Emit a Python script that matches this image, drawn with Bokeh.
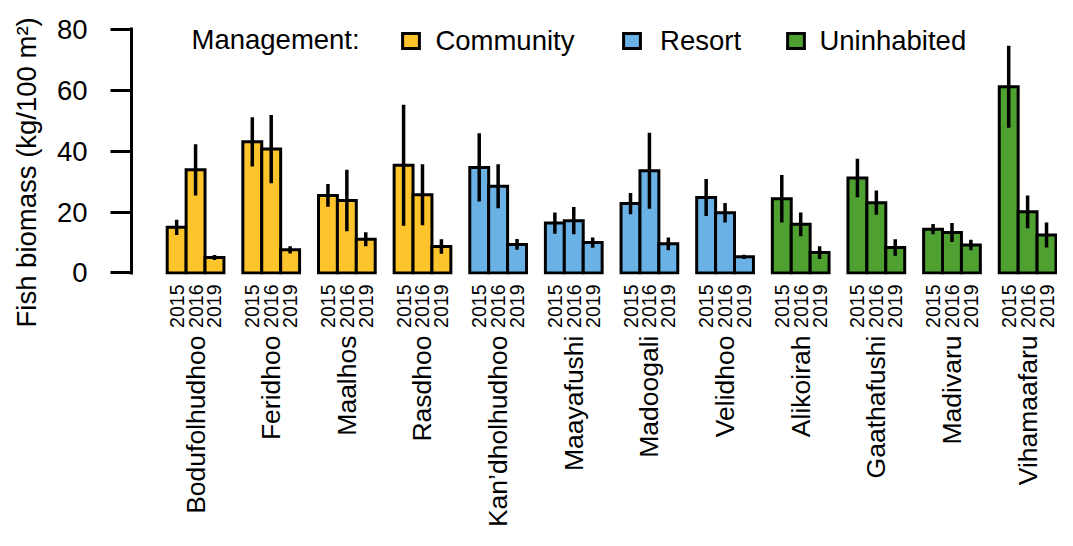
from math import pi
from bokeh.plotting import figure
from bokeh.models import (Range1d, FixedTicker, LinearAxis, Legend, LegendItem,
                          Label, Title, ColumnDataSource)
from bokeh.embed import file_html
from bokeh.resources import INLINE

# ---------------- data ----------------
islands = ["Bodufolhudhoo", "Feridhoo", "Maalhos", "Rasdhoo",
           "Kan\u2019dholhudhoo", "Maayafushi", "Madoogali", "Velidhoo",
           "Alikoirah", "Gaathafushi", "Madivaru", "Vihamaafaru"]
management = ["Community"] * 4 + ["Resort"] * 4 + ["Uninhabited"] * 4
years = ["2015", "2016", "2019"]

biomass_2015 = [15.0, 43.1, 25.5, 35.4, 34.7, 16.4, 22.8, 24.8, 24.4, 31.2, 14.4, 61.2]
biomass_2016 = [33.9, 40.7, 23.8, 25.7, 28.5, 17.2, 33.6, 19.8, 16.0, 23.1, 13.3, 20.1]
biomass_2019 = [5.1, 7.6, 11.1, 8.7, 9.4, 10.0, 9.6, 5.3, 6.7, 8.4, 9.2, 12.5]

se_2015 = [2.5, 8.1, 3.7, 19.9, 11.2, 3.5, 3.5, 6.1, 7.8, 6.3, 1.7, 13.5]
se_2016 = [8.4, 11.2, 10.1, 10.0, 7.2, 4.5, 12.5, 3.2, 3.9, 4.0, 3.1, 5.4]
se_2019 = [0.8, 1.2, 2.3, 2.4, 1.8, 1.7, 2.1, 0.7, 2.1, 2.7, 1.7, 4.1]

y_ticks = [0, 20, 40, 60, 80]
mgmt_levels = ["Community", "Resort", "Uninhabited"]
mgmt_colors = ["#FEC42C", "#6AB2E6", "#4EA030"]
y_title = "Fish biomass (kg/100 m\u00b2)"
legend_title = "Management:"

# ---------------- build tables ----------------
FONT = "Liberation Sans"
vals = [biomass_2015, biomass_2016, biomass_2019]
ses = [se_2015, se_2016, se_2019]

tables = {m: dict(x=[], top=[], lo=[], hi=[]) for m in mgmt_levels}
year_ticks, year_over = [], {}
group_ticks, group_over = [], {}
for g, isl in enumerate(islands):
    m = management[g]
    for j, yr in enumerate(years):
        xc = 4 * g + j + 0.5
        v = vals[j][g]
        s = ses[j][g]
        t = tables[m]
        t["x"].append(xc); t["top"].append(v)
        t["lo"].append(v - s); t["hi"].append(v + s)
        year_ticks.append(xc); year_over[xc] = yr
    gc = 4 * g + 1.5
    group_ticks.append(gc); group_over[gc] = isl

p = figure(width=1057, height=530, output_backend="svg", toolbar_location=None,
           x_range=Range1d(-1.888, 47.08), y_range=Range1d(-0.493, 82.957),
           min_border_left=131, min_border_right=0, min_border_top=20,
           min_border_bottom=256, x_axis_location=None)
p.outline_line_color = None
p.xgrid.visible = False
p.ygrid.visible = False

renderers = {}
for m, c in zip(mgmt_levels, mgmt_colors):
    src = ColumnDataSource(tables[m])
    r = p.vbar(x="x", width=1, top="top", bottom=0, source=src,
               fill_color=c, line_color="black", line_width=3, line_join="miter")
    renderers[m] = r
for m in mgmt_levels:
    src = ColumnDataSource(tables[m])
    p.segment(x0="x", y0="lo", x1="x", y1="hi", source=src,
              line_color="black", line_width=3.5)

# y axis
ya = p.yaxis[0]
ya.ticker = FixedTicker(ticks=y_ticks)
ya.bounds = (-0.5, 80.5)
ya.axis_line_width = 3
ya.major_tick_line_width = 3
ya.major_tick_out = 21
ya.major_tick_in = 0
ya.minor_tick_line_color = None
ya.major_label_standoff = 23
ya.major_label_text_font_size = "27.5px"
ya.major_label_text_font = FONT
ya.major_label_text_color = "black"

p.add_layout(Title(text=y_title, align="left", offset=-53, vertical_align="top",
                   standoff=20, text_font_size="27.5px", text_font_style="normal",
                   text_font=FONT, text_color="black"), "left")

# x axes (years, islands)
ax_year = LinearAxis(ticker=FixedTicker(ticks=year_ticks), major_label_overrides=year_over,
                     major_label_orientation=pi / 2, axis_line_color=None,
                     major_tick_line_color=None, minor_tick_line_color=None,
                     major_tick_out=0, major_tick_in=0, major_label_standoff=10,
                     major_label_text_font_size="19.5px", major_label_text_font=FONT,
                     major_label_text_color="black")
p.add_layout(ax_year, "below")
ax_isl = LinearAxis(ticker=FixedTicker(ticks=group_ticks), major_label_overrides=group_over,
                    major_label_orientation=pi / 2, axis_line_color=None,
                    major_tick_line_color=None, minor_tick_line_color=None,
                    major_tick_out=0, major_tick_in=0, major_label_standoff=5,
                    major_label_text_font_size="26.5px", major_label_text_font=FONT,
                    major_label_text_color="black")
p.add_layout(ax_isl, "below")

# legend
p.add_layout(Label(x=60, y=235, x_units="screen", y_units="screen", text=legend_title,
                   text_font_size="27.5px", text_font=FONT, text_baseline="middle",
                   text_color="black"))
leg_pos = {"Community": (269.4, 217.5, 14), "Resort": (490.1, 217.5, 18),
           "Uninhabited": (654.4, 217.5, 13)}
for m in mgmt_levels:
    lx, ly, sd = leg_pos[m]
    leg = Legend(items=[LegendItem(label=m, renderers=[renderers[m]])],
                 location=(lx, ly), orientation="horizontal", padding=0, margin=0,
                 border_line_color=None, background_fill_alpha=0, spacing=0,
                 glyph_width=21, glyph_height=19, label_standoff=sd,
                 label_text_font_size="27.5px", label_text_font=FONT,
                 label_text_color="black")
    p.add_layout(leg)

open("out.html", "w").write(file_html(p, INLINE))
